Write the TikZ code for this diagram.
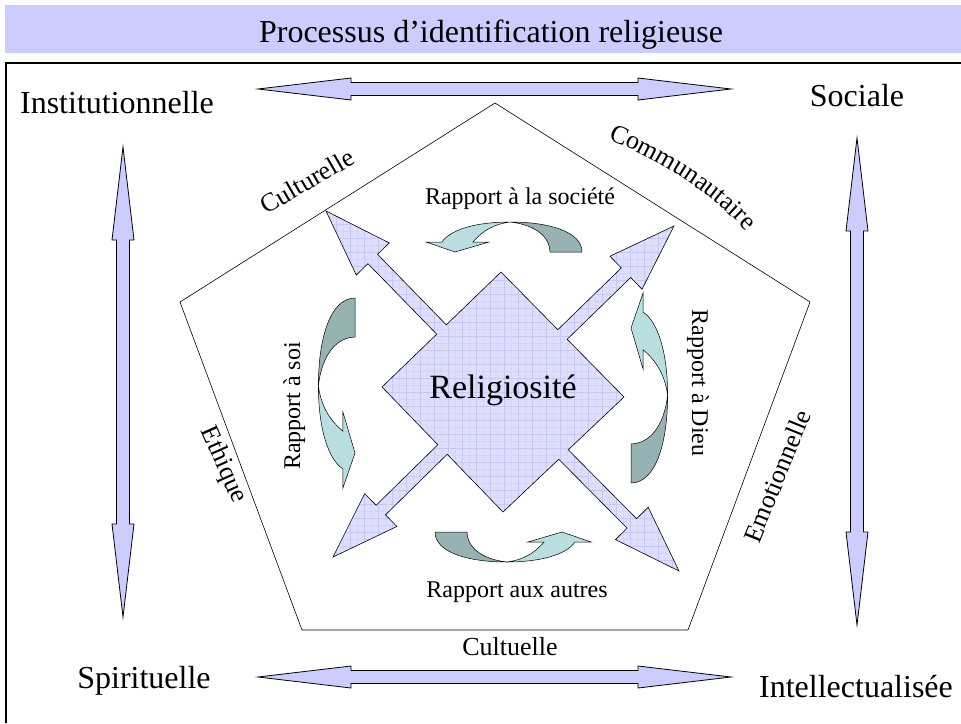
\documentclass[tikz,border=0pt]{standalone}
\usepackage{fontspec}
\setmainfont{Liberation Serif}
\usetikzlibrary{calc,decorations.text}

\definecolor{barfill}{RGB}{204,204,255}
\definecolor{crossfill}{RGB}{222,222,255}
\definecolor{crossgrid}{RGB}{200,200,246}
\definecolor{crossgridfine}{RGB}{213,213,251}
\definecolor{tealdark}{RGB}{150,178,178}
\definecolor{teallight}{RGB}{184,222,224}

\newcommand\setsize[1]{\fontsize{#1}{#1}\selectfont}
\newcommand\headlen{93}
\newcommand\headhalf{11}
\newcommand\shafthalf{6.5}

% horizontal double-headed block arrow: left tip x, right tip x, centre y
\newcommand\hdouble[3]{%
  \filldraw[dblarrow] (#1,#3) -- ({#1+\headlen},{#3-\headhalf}) -- ({#1+\headlen},{#3-\shafthalf})
   -- ({#2-\headlen},{#3-\shafthalf}) -- ({#2-\headlen},{#3-\headhalf}) -- (#2,#3)
   -- ({#2-\headlen},{#3+\headhalf}) -- ({#2-\headlen},{#3+\shafthalf})
   -- ({#1+\headlen},{#3+\shafthalf}) -- ({#1+\headlen},{#3+\headhalf}) -- cycle;}
% vertical double-headed block arrow: centre x, top tip y, bottom tip y
\newcommand\vdouble[3]{%
  \filldraw[dblarrow] (#1,#2) -- ({#1+\headhalf},{#2+\headlen}) -- ({#1+\shafthalf},{#2+\headlen})
   -- ({#1+\shafthalf},{#3-\headlen}) -- ({#1+\headhalf},{#3-\headlen}) -- (#1,#3)
   -- ({#1-\headhalf},{#3-\headlen}) -- ({#1-\shafthalf},{#3-\headlen})
   -- ({#1-\shafthalf},{#2+\headlen}) -- ({#1-\headhalf},{#2+\headlen}) -- cycle;}

% one arm of the central cross: name, base point on the diamond, tip
\newcommand\defarm[3]{%
  \coordinate (#1M) at (#2);
  \coordinate (#1T) at (#3);
  \coordinate (#1B) at ($(#1T)!67pt!(#1M)$);
  \coordinate (#1a) at ($(#1M)!6.7pt!-90:(#1T)$);
  \coordinate (#1b) at ($(#1B)!6.7pt!-90:(#1T)$);
  \coordinate (#1c) at ($(#1B)!23pt!-90:(#1T)$);
  \coordinate (#1d) at ($(#1B)!23pt!90:(#1T)$);
  \coordinate (#1e) at ($(#1B)!6.7pt!90:(#1T)$);
  \coordinate (#1f) at ($(#1M)!6.7pt!90:(#1T)$);
}

% two-tone curved arrow: origin x, origin y, rotation, scale
\newcommand\curvedarrow[4]{%
  \begin{scope}[shift={(#1,#2)}, rotate=#3, scale=#4]
    \filldraw[curvedark] (77,0) .. controls (77,-20) and (45,-30) .. (5,-30)
      .. controls (32,-27) and (45,-14) .. (45,0) -- cycle;
    \filldraw[curvelight] (5,-30) .. controls (-30,-30) and (-55,-22) .. (-63,-10)
      -- (-79,-10) -- (-50,0) -- (-16,-10) -- (-32,-10)
      .. controls (-22,-22) and (-10,-28) .. (5,-30) -- cycle;
  \end{scope}}

\def\crosspath{(dT) -- (ULa) -- (ULb) -- (ULc) -- (ULT) -- (ULd) -- (ULe) -- (ULf)
  -- (dL) -- (LLa) -- (LLb) -- (LLc) -- (LLT) -- (LLd) -- (LLe) -- (LLf)
  -- (dB) -- (LRa) -- (LRb) -- (LRc) -- (LRT) -- (LRd) -- (LRe) -- (LRf)
  -- (dR) -- (URa) -- (URb) -- (URc) -- (URT) -- (URd) -- (URe) -- (URf) -- cycle}

\begin{document}
\begin{tikzpicture}[x=1pt, y=-1pt, line join=miter,
  dblarrow/.style={fill=barfill, draw=black, line width=0.8pt},
  curvedark/.style={fill=tealdark, draw=black, line width=0.5pt},
  curvelight/.style={fill=teallight, draw=black, line width=0.5pt},
  corner/.style={font=\setsize{32}, inner sep=0pt},
  side/.style={font=\setsize{26}, inner sep=0pt},
  relation/.style={font=\setsize{24}, inner sep=0pt}]
\useasboundingbox (0,0) rectangle (961,723);

% title band
\fill[barfill] (5,5) rectangle (961,53);
\node[anchor=base, font=\setsize{32}, inner sep=0pt] (title) at (491,42) {Processus d’identification religieuse};

% outer frame
\draw[line width=2pt] (5,63) -- (961,63);
\draw[line width=1.2pt] (6,63) -- (6,723);

% corner labels
\node[corner, anchor=base] (inst) at (117,113) {Institutionnelle};
\node[corner, anchor=base] (soc) at (857,106) {Sociale};
\node[corner, anchor=base] (spir) at (144,688) {Spirituelle};
\node[corner, anchor=base] (intel) at (856,697) {Intellectualisée};

% block arrows joining the corners
\hdouble{258}{731}{89}
\hdouble{258}{731}{677}
\vdouble{123}{147}{617}
\vdouble{857}{138}{625}

% pentagon
\draw[line width=0.6pt] (495,103) -- (810,302) -- (688,630) -- (302,630) -- (180,302) -- cycle;

% pentagon side labels
\node[side, rotate=30] (cultu) at (307,181) {Culturelle};
\coordinate (commuA) at (600,136);
\coordinate (commuB) at (752,238);
\path[decorate, decoration={text along path, text align=center,
    text={|\setsize{26}|Communautaire}}]
  (commuA) .. controls (648,154) and (712,190) .. (commuB);
\node[side, rotate=-66] (ethi) at (223,465) {Ethique};
\node[side, rotate=68] (emot) at (777,476) {Emotionnelle};
\node[side, anchor=base] (culte) at (510,655) {Cultuelle};

% central diamond with four arms
\coordinate (dT) at (501,272);
\coordinate (dL) at (382,387);
\coordinate (dB) at (503,512);
\coordinate (dR) at (624,397);
\defarm{UL}{$(dT)!0.5!(dL)$}{326,211}
\defarm{LL}{$(dL)!0.5!(dB)$}{333,557}
\defarm{LR}{$(dB)!0.5!(dR)$}{679,571}
\defarm{UR}{$(dR)!0.5!(dT)$}{674,226}

\fill[crossfill] \crosspath;
\begin{scope}
  \clip \crosspath;
  \draw[crossgridfine, line width=0.4pt, step=7pt] (300,600) grid (700,190);
  \draw[crossgrid, line width=0.5pt, step=14pt] (300,600) grid (700,190);
\end{scope}
\draw[line width=0.6pt] \crosspath;

\node[anchor=base, font=\setsize{34}, inner sep=0pt] (relig) at (503,398) {Religiosité};

% curved relation arrows
\curvedarrow{505}{252}{0}{1}
\curvedarrow{512}{532}{180}{1}
\curvedarrow{355}{392}{90}{1.22}
\curvedarrow{631}{389}{-90}{1.22}

% relation labels
\node[relation, anchor=base] (rsoc) at (520,204) {Rapport à la société};
\node[relation, anchor=base] (raut) at (517,597) {Rapport aux autres};
\node[relation, anchor=base, rotate=90] (rsoi) at (300,406) {Rapport à soi};
\node[relation, anchor=base, rotate=-90] (rdieu) at (692,383) {Rapport à Dieu};
\end{tikzpicture}
\end{document}
